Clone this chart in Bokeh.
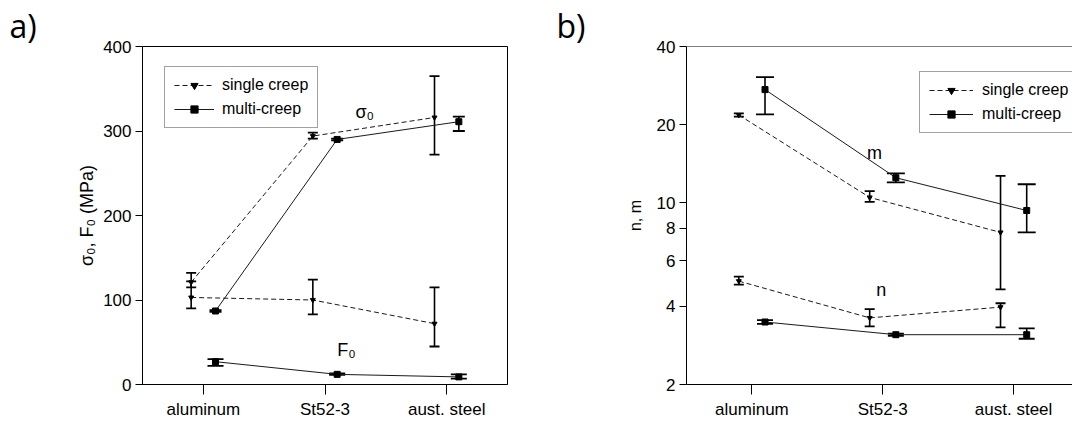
from bokeh.plotting import figure
from bokeh.layouts import row
from bokeh.models import (ColumnDataSource, Whisker, TeeHead, Legend, LegendItem,
                          Label, Span, FixedTicker)
from bokeh.embed import file_html
from bokeh.resources import INLINE

# ---------------- data ----------------
categories = ["aluminum", "St52-3", "aust. steel"]

# panel a) sigma_0 and F_0 (MPa)
sigma0_single = [121, 294, 316]
sigma0_single_lo = [115, 291, 272]
sigma0_single_hi = [132, 298, 365]
sigma0_multi = [87, 290, 311]
sigma0_multi_lo = [86, 289, 300]
sigma0_multi_hi = [88, 291, 317]
F0_single = [103, 100, 72]
F0_single_lo = [90, 83, 45]
F0_single_hi = [122, 124, 115]
F0_multi = [27, 12, 9]
F0_multi_lo = [22, 11.5, 7]
F0_multi_hi = [30, 13, 12]

# panel b) exponents n, m
m_single = [21.8, 10.5, 7.7]
m_single_lo = [21.5, 10.1, 4.65]
m_single_hi = [22.1, 11.1, 12.7]
m_multi = [27.3, 12.5, 9.35]
m_multi_lo = [21.9, 12.0, 7.7]
m_multi_hi = [30.5, 13.0, 11.8]
n_single = [5.0, 3.61, 3.97]
n_single_lo = [4.85, 3.35, 3.32]
n_single_hi = [5.2, 3.9, 4.11]
n_multi = [3.48, 3.11, 3.11]
n_multi_lo = [3.42, 3.08, 3.0]
n_multi_hi = [3.54, 3.14, 3.29]

left_ticks = [0, 100, 200, 300, 400]
right_ticks = [2, 4, 6, 8, 10, 20, 40]

# ---------------- style ----------------
FONT = "Liberation Sans"
OFFSET = 0.1
xpos = list(range(1, len(categories) + 1))
x_single = [x - OFFSET for x in xpos]
x_multi = [x + OFFSET for x in xpos]
LINE_COL = "#1a1a1a"


def style_axes(p, fs):
    p.xaxis.ticker = FixedTicker(ticks=xpos)
    p.xaxis.major_label_overrides = {x: c for x, c in zip(xpos, categories)}
    for ax in (p.xaxis, p.yaxis):
        ax.axis_line_color = "black"
        ax.axis_line_width = 1
        ax.major_tick_line_color = "black"
        ax.major_tick_in = 0
        ax.minor_tick_line_color = None
        ax.major_label_text_font = FONT
        ax.major_label_text_font_size = fs
        ax.major_label_text_color = "black"
        ax.axis_label_text_font = FONT
        ax.axis_label_text_font_style = "normal"
        ax.axis_label_text_color = "black"
    p.xaxis.major_tick_out = 10
    p.xaxis.major_label_standoff = 5
    p.yaxis.major_tick_out = 7
    p.yaxis.major_label_standoff = 4
    p.xgrid.visible = False
    p.ygrid.visible = False


def panel_title(p, txt, offset):
    p.title.text = txt
    p.title.text_font = "Open Sans"
    p.title.text_font_size = "32px"
    p.title.text_font_style = "normal"
    p.title.text_color = "black"
    p.title.align = "left"
    p.title.offset = offset
    p.title.standoff = 0


def add_series(p, x, y, lo, hi, single, head):
    src = ColumnDataSource(dict(x=x, y=y, lo=lo, hi=hi))
    w = Whisker(source=src, base="x", lower="lo", upper="hi", dimension="height",
                line_color="black", line_width=1.6,
                lower_head=TeeHead(size=head, line_width=1.8, line_color="black"),
                upper_head=TeeHead(size=head, line_width=1.8, line_color="black"))
    p.add_layout(w)
    if single:
        ln = p.line("x", "y", source=src, line_color=LINE_COL, line_width=1, line_dash="5 3")
        mk = p.scatter("x", "y", source=src, marker="inverted_triangle", size=5,
                       fill_color="black", line_color="black")
    else:
        ln = p.line("x", "y", source=src, line_color=LINE_COL, line_width=1)
        mk = p.scatter("x", "y", source=src, marker="square", size=6,
                       fill_color="black", line_color="black")
    return ln, mk


def make_legend(p, single_r, multi_r, loc, fs, gw, standoff):
    leg = Legend(items=[LegendItem(label="single creep", renderers=list(single_r)),
                        LegendItem(label="multi-creep", renderers=list(multi_r))],
                 location=loc, orientation="vertical",
                 label_text_font=FONT, label_text_font_size=fs,
                 label_text_color="black",
                 glyph_width=gw, glyph_height=18, label_height=18,
                 label_standoff=standoff, padding=9, spacing=6, margin=0,
                 border_line_color="#444444", border_line_width=1,
                 background_fill_color="white", background_fill_alpha=1)
    p.add_layout(leg, "center")


# ---------------- panel a ----------------
p1 = figure(width=545, height=421, x_range=(0.5, 3.5), y_range=(0, 400),
            output_backend="svg", toolbar_location=None,
            min_border_left=142, min_border_right=38,
            min_border_top=46, min_border_bottom=37)
style_axes(p1, "17px")
panel_title(p1, "a)", -133)
p1.yaxis.ticker = FixedTicker(ticks=left_ticks)
p1.yaxis.axis_label = "σ₀, F₀ (MPa)"
p1.yaxis.axis_label_text_font_size = "18px"
p1.yaxis.axis_label_standoff = 3
p1.outline_line_color = "black"
p1.outline_line_width = 1
p1.outline_line_alpha = 1

s1 = add_series(p1, x_single, sigma0_single, sigma0_single_lo, sigma0_single_hi, True, 10)
m1 = add_series(p1, x_multi, sigma0_multi, sigma0_multi_lo, sigma0_multi_hi, False, 12)
add_series(p1, x_single, F0_single, F0_single_lo, F0_single_hi, True, 10)
add_series(p1, x_multi, F0_multi, F0_multi_lo, F0_multi_hi, False, 16)
make_legend(p1, s1, m1, (22, 256), "16px", 40, 8)

p1.add_layout(Label(x=2.25, y=322, text="σ₀", text_font=FONT, text_font_size="18px",
                    text_color="black", text_baseline="alphabetic"))
p1.add_layout(Label(x=2.1, y=41, text="F₀", text_font=FONT, text_font_size="18px",
                    text_color="black", text_baseline="alphabetic"))

# ---------------- panel b ----------------
p2 = figure(width=527, height=421, x_range=(0.5, 3.45), y_range=(2, 40),
            y_axis_type="log", output_backend="svg", toolbar_location=None,
            min_border_left=141, min_border_right=0,
            min_border_top=46, min_border_bottom=37)
style_axes(p2, "17px")
panel_title(p2, "b)", -130)
p2.yaxis.ticker = FixedTicker(ticks=right_ticks)
p2.yaxis.major_label_overrides = {t: str(t) for t in right_ticks}
p2.yaxis.axis_label = "n, m"
p2.yaxis.axis_label_text_font_size = "16px"
p2.yaxis.axis_label_standoff = 10
p2.outline_line_color = None
p2.add_layout(Span(location=40, dimension="width", line_color="black", line_width=1))

s2 = add_series(p2, x_single, m_single, m_single_lo, m_single_hi, True, 10)
m2 = add_series(p2, x_multi, m_multi, m_multi_lo, m_multi_hi, False, 18)
add_series(p2, x_single, n_single, n_single_lo, n_single_hi, True, 10)
add_series(p2, x_multi, n_multi, n_multi_lo, n_multi_hi, False, 16)
make_legend(p2, s2, m2, (233, 251), "16px", 44, 9)

p2.add_layout(Label(x=1.88, y=15.6, text="m", text_font=FONT, text_font_size="18px",
                    text_color="black", text_baseline="alphabetic"))
p2.add_layout(Label(x=1.95, y=4.62, text="n", text_font=FONT, text_font_size="18px",
                    text_color="black", text_baseline="alphabetic"))

layout = row(p1, p2)
open("out.html", "w").write(file_html(layout, INLINE))
